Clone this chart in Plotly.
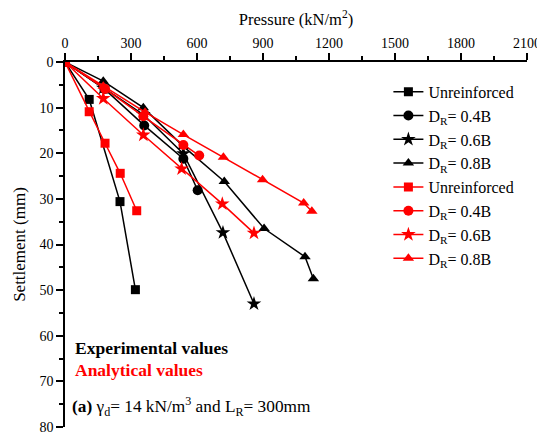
import plotly.graph_objects as go

# Experimental (black)
exp_unr_p = [0, 110, 250, 320]
exp_unr_s = [0, 8.2, 30.6, 49.9]
exp_04_p = [0, 179, 360, 538, 603]
exp_04_s = [0, 5.9, 13.9, 21.2, 28.1]
exp_06_p = [0, 174, 356, 538, 718, 859]
exp_06_s = [0, 5.7, 11.5, 20.1, 37.4, 53.0]
exp_08_p = [0, 174, 356, 538, 724, 905, 1091, 1129]
exp_08_s = [0, 4.2, 10.0, 18.5, 26.2, 36.5, 42.7, 47.5]

# Analytical (red)
ana_unr_p = [0, 110, 182, 251, 326]
ana_unr_s = [0, 10.9, 17.8, 24.4, 32.6]
ana_04_p = [0, 182, 356, 538, 610]
ana_04_s = [0, 5.9, 11.9, 18.2, 20.5]
ana_06_p = [0, 174, 356, 530, 715, 859]
ana_06_s = [0, 8.0, 16.0, 23.4, 31.1, 37.5]
ana_08_p = [0, 174, 364, 538, 720, 898, 1085, 1122]
ana_08_s = [0, 5.3, 11.0, 15.9, 20.9, 25.8, 30.9, 32.7]

x_ticks = [0, 300, 600, 900, 1200, 1500, 1800, 2100]
y_ticks = [0, 10, 20, 30, 40, 50, 60, 70, 80]

labels = ["Unreinforced", "D<sub>R</sub>= 0.4B", "D<sub>R</sub>= 0.6B", "D<sub>R</sub>= 0.8B"]
symbols = ["square", "circle", "star", "triangle-up"]
sizes = [9, 10, 11, 10]

exp_sets = [(exp_unr_p, exp_unr_s), (exp_04_p, exp_04_s), (exp_06_p, exp_06_s), (exp_08_p, exp_08_s)]
ana_sets = [(ana_unr_p, ana_unr_s), (ana_04_p, ana_04_s), (ana_06_p, ana_06_s), (ana_08_p, ana_08_s)]

fig = go.Figure()
k = 0
for color, sets in (("black", exp_sets), ("red", ana_sets)):
    for (p, s), lab, sym, sz in zip(sets, labels, symbols, sizes):
        fig.add_trace(go.Scatter(
            x=p, y=s, mode="lines+markers", name=lab,
            legendgroup=f"g{k}",
            line=dict(color=color, width=1.5),
            marker=dict(symbol=sym, size=sz, color=color),
        ))
        k += 1

font = "'Liberation Serif', 'Times New Roman', serif"

# the page body has an 8px default margin, so the figure is sized to fit the window
fig.update_layout(
    width=537, height=428,
    margin=dict(l=57, r=18, t=54, b=9),
    paper_bgcolor="white", plot_bgcolor="white",
    font=dict(family=font, size=14, color="black"),
    showlegend=True,
    legend=dict(x=0.70, y=0.965, xanchor="left", yanchor="top",
                bgcolor="rgba(0,0,0,0)", font=dict(family=font, size=16),
                tracegroupgap=0, itemwidth=30),
    xaxis=dict(
        side="top", range=[0, 2100], tickvals=x_ticks, automargin=False,
        showline=True, linecolor="black", linewidth=1.5, showgrid=False, zeroline=False,
        ticks="outside", ticklen=7, tickwidth=1.5, tickcolor="black",
        minor=dict(dtick=150, ticks="outside", ticklen=4, tickwidth=1.5, tickcolor="black"),
        tickfont=dict(family=font, size=14),
        title=dict(text="Pressure (kN/m<sup>2</sup>)", font=dict(family=font, size=16.5), standoff=8),
    ),
    yaxis=dict(
        range=[80, 0], tickvals=y_ticks, automargin=False,
        showline=True, linecolor="black", linewidth=1.5, showgrid=False, zeroline=False,
        ticks="outside", ticklen=7, tickwidth=1.5, tickcolor="black",
        minor=dict(dtick=5, ticks="outside", ticklen=4, tickwidth=1.5, tickcolor="black"),
        tickfont=dict(family=font, size=14),
        title=dict(text="Settlement (mm)", font=dict(family=font, size=17), standoff=10),
    ),
)

fig.add_annotation(x=0.0, y=62.6, xref="paper", yref="y", xanchor="left", yanchor="middle",
                   xshift=8,
                   text="<b>Experimental values</b>", showarrow=False,
                   font=dict(family=font, size=17.5, color="black"))
fig.add_annotation(x=0.0, y=67.4, xref="paper", yref="y", xanchor="left", yanchor="middle",
                   xshift=8,
                   text="<b>Analytical values</b>", showarrow=False,
                   font=dict(family=font, size=17.5, color="red"))
fig.add_annotation(x=0.0, y=75.6, xref="paper", yref="y", xanchor="left", yanchor="middle",
                   xshift=5,
                   text="<b>(a)</b> γ<sub>d</sub>= 14 kN/m<sup>3</sup> and L<sub>R</sub>= 300mm",
                   showarrow=False, font=dict(family=font, size=17.3, color="black"))

fig.write_html("out.html")
